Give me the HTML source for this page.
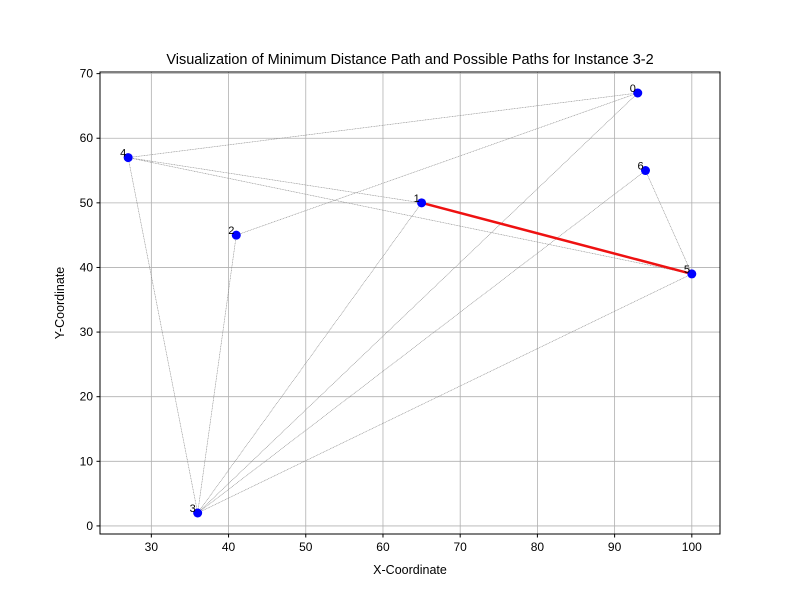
<!DOCTYPE html>
<html><head><meta charset="utf-8"><style>body{margin:0;background:#fff}svg{font-family:"Liberation Sans","DejaVu Sans",sans-serif}</style></head>
<body>
<svg id="chart" width="800" height="600">
<rect width="800" height="600" fill="#fff"/>
<g id="grid"></g><g id="edges"></g><g id="pts"></g><g id="axes"></g>
</svg>
<script>
const nodeIds=[0,1,2,3,4,5,6];
const xs=[93,65,41,36,27,100,55];
xs[6]=94;
const ys=[67,50,45,2,57,39,55];
const edgesFrom=[4,4,4,4,2,2,3,3,3,3,6];
const edgesTo=[0,1,5,3,0,3,0,1,6,5,5];
const bestFrom=[1];const bestTo=[5];
const xTicks=[30,40,50,60,70,80,90,100];
const yTicks=[0,10,20,30,40,50,60,70];
const L=100,R=720,T=72,B=534,x0=23.35,x1=103.65,y0=-1.25,y1=70.25;
const X=v=>L+(v-x0)/(x1-x0)*(R-L), Y=v=>B-(v-y0)/(y1-y0)*(B-T);
const NS="http://www.w3.org/2000/svg";
function mk(p,t,a){const e=document.createElementNS(NS,t);for(const k in a)e.setAttribute(k,a[k]);document.getElementById(p).appendChild(e);return e;}
xTicks.forEach(v=>{const g=mk('grid','line',{x1:X(v),x2:X(v),y1:T,y2:B,stroke:'#b0b0b0','stroke-width':0.8});


mk('axes','line',{x1:X(v),x2:X(v),y1:B,y2:B+3.5,stroke:'#000'});
const t=mk('axes','text',{x:X(v),y:B+17,'text-anchor':'middle','font-size':12});t.textContent=v;

});
yTicks.forEach(v=>{const g=mk('grid','line',{x1:L,x2:R,y1:Y(v),y2:Y(v),stroke:'#b0b0b0','stroke-width':0.8});


mk('axes','line',{x1:L-3.5,x2:L,y1:Y(v),y2:Y(v),stroke:'#000'});
const t=mk('axes','text',{x:L-7,y:Y(v)+4,'text-anchor':'end','font-size':12});t.textContent=v;

});
edgesFrom.forEach((a,i)=>{const b=edgesTo[i];const l=mk('edges','line',{x1:X(xs[a]),y1:Y(ys[a]),x2:X(xs[b]),y2:Y(ys[b]),stroke:'#888','stroke-width':0.6,'stroke-dasharray':'1,0.6'});

});
bestFrom.forEach((a,i)=>{const b=bestTo[i];const l=mk('edges','line',{x1:X(xs[a]),y1:Y(ys[a]),x2:X(xs[b]),y2:Y(ys[b]),stroke:'#ee1111','stroke-width':2.5});

});
nodeIds.forEach((n,i)=>{const c=mk('pts','circle',{cx:X(xs[i]),cy:Y(ys[i]),r:4.5,fill:'#0000ff'});


const t=mk('pts','text',{x:X(xs[i])-8,y:Y(ys[i])-1,'font-size':11});t.textContent=n;

});
const fr=mk('axes','rect',{x:L,y:T,width:R-L,height:B-T,fill:'none',stroke:'#000','stroke-width':1});


let t=mk('axes','text',{x:410,y:64,'text-anchor':'middle','font-size':14.5});t.textContent='Visualization of Minimum Distance Path and Possible Paths for Instance 3-2';


t=mk('axes','text',{x:410,y:574,'text-anchor':'middle','font-size':12.5});t.textContent='X-Coordinate';


t=mk('axes','text',{x:64,y:303,'text-anchor':'middle','font-size':12.5,transform:'rotate(-90 64 303)'});t.textContent='Y-Coordinate';


</script>
</body></html>
